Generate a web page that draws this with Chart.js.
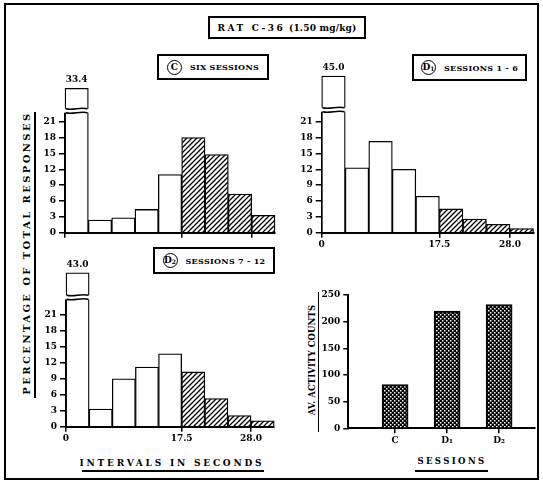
<!DOCTYPE html>
<html>
<head>
<meta charset="utf-8">
<script src="https://cdn.jsdelivr.net/npm/chart.js@4.4.1/dist/chart.umd.min.js"></script>
<style>
body { margin: 0; background: #fff; }
#fig { position: relative; width: 543px; height: 483px; overflow: hidden; font-family: 'DejaVu Serif', serif; font-weight: bold; color: #000; }
.frame { position: absolute; left: 4px; top: 3px; width: 531px; height: 473px; border: 2px solid #000; }
canvas { position: absolute; }
.box { position: absolute; border: 2px solid #000; box-sizing: border-box; display: flex; align-items: center; justify-content: center; font-size: 8px; white-space: nowrap; letter-spacing: 0.3px; }
.circ { display: inline-block; box-sizing: border-box; width: 15px; height: 15px; border: 1.5px solid #000; border-radius: 50%; text-align: center; line-height: 12px; font-size: 9px; margin-right: 8px; letter-spacing: 0; }
.circ sub { font-size: 6px; vertical-align: -1px; }
.lbl { position: absolute; white-space: nowrap; text-align: center; }
.rot { transform: rotate(-90deg); transform-origin: center center; }
.line { position: absolute; background: #000; }
</style>
</head>
<body>
<div id="fig">
  <div class="frame"></div>

  <div class="box" style="left:208px;top:16px;width:158px;height:23px;font-size:9px;">
    <span style="letter-spacing:2.6px">RAT C-36</span>&nbsp;<span style="letter-spacing:0.2px">(1.50 mg/kg)</span>
  </div>

  <div class="box" style="left:157px;top:54px;width:112px;height:26px;"><span class="circ">C</span>SIX SESSIONS</div>
  <div class="box" style="left:412px;top:54px;width:115px;height:27px;"><span class="circ">D<sub>1</sub></span>SESSIONS 1 - 6</div>
  <div class="box" style="left:153px;top:247px;width:122px;height:27px;"><span class="circ">D<sub>2</sub></span>SESSIONS 7 - 12</div>

  <div class="lbl rot" style="left:-117px;top:246px;width:290px;height:14px;font-size:10px;letter-spacing:2.4px;">PERCENTAGE OF TOTAL RESPONSES</div>
  <div class="line" style="left:34px;top:112px;width:1.5px;height:286px;"></div>

  <div class="lbl rot" style="left:243px;top:354px;width:140px;height:12px;font-size:8.5px;letter-spacing:0.1px;">AV. ACTIVITY COUNTS</div>
  <div class="line" style="left:317.5px;top:292px;width:1.5px;height:140px;"></div>

  <div class="lbl" style="left:72px;top:458px;width:200px;font-size:9px;letter-spacing:2.8px;">INTERVALS IN SECONDS</div>
  <div class="line" style="left:82px;top:470px;width:182px;height:1.5px;"></div>

  <div class="lbl" style="left:402px;top:456px;width:100px;font-size:8.5px;letter-spacing:2.4px;">SESSIONS</div>
  <div class="line" style="left:415px;top:470px;width:73px;height:1.5px;"></div>

  <canvas id="histC" width="270" height="185" style="left:15px;top:60px"></canvas>
  <canvas id="histD1" width="268" height="195" style="left:272px;top:60px"></canvas>
  <canvas id="histD2" width="270" height="195" style="left:15px;top:255px"></canvas>
  <canvas id="activity" width="250" height="170" style="left:290px;top:280px"></canvas>
</div>

<script>
// interval bins are 3.5 s wide, bins from 17.5 s on are hatched
const intervalBinWidth = 3.5;
const hatchFrom = 17.5;
const intervalTicks = [0, 17.5, 28.0];
const percentStep = 3;

// percentage of total responses per interval bin
const sessionC = [33.4, 2.4, 2.8, 4.4, 11.0, 18.0, 14.8, 7.3, 3.3];
const sessionD1 = [45.0, 12.3, 17.3, 12.0, 6.9, 4.5, 2.6, 1.6, 0.8];
const sessionD2 = [43.0, 3.3, 9.0, 11.2, 13.7, 10.3, 5.3, 2.1, 1.1];

const activityLabels = ['C', 'D\u2081', 'D\u2082'];
const activityCounts = [82, 220, 232];
const activityStep = 50;
const activityMax = 250;

Chart.defaults.font.family = "'DejaVu Serif', serif";
Chart.defaults.font.weight = 'bold';
Chart.defaults.font.size = 9;
Chart.defaults.color = '#000';

// linear scale with a squeezed part above breakAt (for the cut off first bar)
class BrokenScale extends Chart.LinearScale {
    getPixelForValue(v) {
        const b = this.options.breakAt;
        if (b != null && v > b) v = b + (v - b) * this.options.squeeze;
        return super.getPixelForValue(v);
    }
}
BrokenScale.id = 'broken';
BrokenScale.defaults = Chart.LinearScale.defaults;
Chart.register(BrokenScale);

const barBreak = {
    id: 'barBreak',
    afterDatasetsDraw(chart) {
        const y = chart.scales.y;
        const b = y.options.breakAt;
        if (b == null) return;
        const ctx = chart.ctx;
        const yb = y.getPixelForValue(b);
        const data = chart.data.datasets[0].data;
        chart.getDatasetMeta(0).data.forEach((bar, i) => {
            const v = data[i].y;
            if (v <= b) return;
            const l = bar.x - bar.width / 2, r = bar.x + bar.width / 2;
            ctx.save();
            ctx.fillStyle = '#fff';
            ctx.fillRect(l - 2, yb - 4, r - l + 4, 4);
            ctx.strokeStyle = '#000';
            ctx.lineWidth = 1.5;
            [yb - 4, yb].forEach(yy => {
                ctx.beginPath();
                ctx.moveTo(l + 0.75, yy);
                ctx.bezierCurveTo(l + (r - l) * 0.35, yy + 2, l + (r - l) * 0.65, yy - 2, r - 0.75, yy);
                ctx.stroke();
            });
            ctx.fillStyle = '#000';
            ctx.font = "bold 9px 'DejaVu Serif'";
            ctx.textAlign = 'center';
            ctx.textBaseline = 'bottom';
            ctx.fillText(v.toFixed(1), bar.x, bar.y - 4);
            ctx.restore();
        });
    }
};

function makeHatch() {
    const c = document.createElement('canvas');
    c.width = c.height = 5;
    const g = c.getContext('2d');
    g.fillStyle = '#fff';
    g.fillRect(0, 0, 5, 5);
    g.strokeStyle = '#000';
    g.lineWidth = 1.3;
    g.beginPath();
    g.moveTo(0, 5); g.lineTo(5, 0);
    g.moveTo(-1, 1); g.lineTo(1, -1);
    g.moveTo(4, 6); g.lineTo(6, 4);
    g.stroke();
    return g.createPattern(c, 'repeat');
}

function makeDots() {
    const c = document.createElement('canvas');
    c.width = c.height = 4;
    const g = c.getContext('2d');
    g.fillStyle = '#000';
    g.fillRect(0, 0, 4, 4);
    g.fillStyle = '#fff';
    g.fillRect(0, 0, 1.5, 1.5);
    g.fillRect(2, 2, 1.5, 1.5);
    return g.createPattern(c, 'repeat');
}

const axisGrid = { drawOnChartArea: false, color: '#000', lineWidth: 1.5, tickLength: 5, offset: false };
const axisBorder = { color: '#000', width: 2 };

// canvas box -> padding & fixed axis sizes so the plot area sits at `area`
function layoutFor(id, area) {
    const cv = document.getElementById(id);
    const l = parseFloat(cv.style.left), t = parseFloat(cv.style.top);
    return {
        padding: { top: area.top - t, right: l + cv.width - area.right, left: 0, bottom: 0 },
        yw: area.left - l,
        xh: t + cv.height - area.bottom
    };
}

function histogram(id, values, area, yMax, squeeze, showX) {
    const lay = layoutFor(id, area);
    const hatch = makeHatch();
    const pts = values.map((v, i) => ({ x: (i + 0.5) * intervalBinWidth, y: v }));
    new Chart(document.getElementById(id), {
        type: 'bar',
        data: {
            datasets: [{
                data: pts,
                backgroundColor: pts.map(p => p.x > hatchFrom ? hatch : '#fff'),
                borderColor: '#000',
                borderWidth: 1.3,
                categoryPercentage: 1,
                barPercentage: 1,
                clip: false
            }]
        },
        options: {
            responsive: false,
            animation: false,
            layout: { padding: lay.padding },
            plugins: { legend: { display: false }, tooltip: { enabled: false } },
            scales: {
                x: {
                    type: 'linear', offset: false, min: 0, max: values.length * intervalBinWidth, bounds: 'data',
                    afterBuildTicks: s => { s.ticks = intervalTicks.map(v => ({ value: v })); },
                    afterFit: s => { s.height = lay.xh; },
                    ticks: { display: showX, autoSkip: false, maxRotation: 0, padding: 2,
                        callback: v => v === 0 ? '0' : v.toFixed(1) },
                    grid: axisGrid, border: axisBorder
                },
                y: {
                    type: 'broken', min: 0, max: yMax, bounds: 'data', breakAt: yMax, squeeze: squeeze,
                    afterFit: s => { s.width = lay.yw; },
                    ticks: { stepSize: percentStep, includeBounds: false, padding: 3 },
                    grid: Object.assign({}, axisGrid, { tickLength: 6 }), border: axisBorder
                }
            }
        },
        plugins: [barBreak]
    });
}

histogram('histC', sessionC, { left: 65, top: 112.7, right: 275, bottom: 232.7 }, 22.7, 0.43, false);
histogram('histD1', sessionD1, { left: 321.7, top: 111.7, right: 533.5, bottom: 232.7 }, 22.9, 0.305, true);
histogram('histD2', sessionD2, { left: 66, top: 299.3, right: 274.2, bottom: 426.7 }, 23.95, 0.262, true);

(function () {
    const lay = layoutFor('activity', { left: 348.3, top: 295, right: 535, bottom: 428.3 });
    new Chart(document.getElementById('activity'), {
        type: 'bar',
        data: {
            datasets: [{
                data: activityCounts.map((v, i) => ({ x: i + 1, y: v })),
                backgroundColor: makeDots(),
                borderColor: '#000',
                borderWidth: 2,
                barThickness: 26
            }]
        },
        options: {
            responsive: false,
            animation: false,
            layout: { padding: lay.padding },
            plugins: { legend: { display: false }, tooltip: { enabled: false } },
            scales: {
                x: {
                    type: 'linear', offset: false, min: 0.1, max: activityLabels.length + 0.69, bounds: 'data',
                    afterBuildTicks: s => { s.ticks = activityLabels.map((_, i) => ({ value: i + 1 })); },
                    afterFit: s => { s.height = lay.xh; },
                    ticks: { autoSkip: false, maxRotation: 0, padding: 2, callback: v => activityLabels[v - 1] },
                    grid: axisGrid, border: axisBorder
                },
                y: {
                    type: 'linear', min: 0, max: activityMax, bounds: 'data',
                    afterFit: s => { s.width = lay.yw; },
                    ticks: { stepSize: activityStep, padding: 3 },
                    grid: Object.assign({}, axisGrid, { tickLength: 5 }), border: axisBorder
                }
            }
        }
    });
})();
</script>
</body>
</html>
